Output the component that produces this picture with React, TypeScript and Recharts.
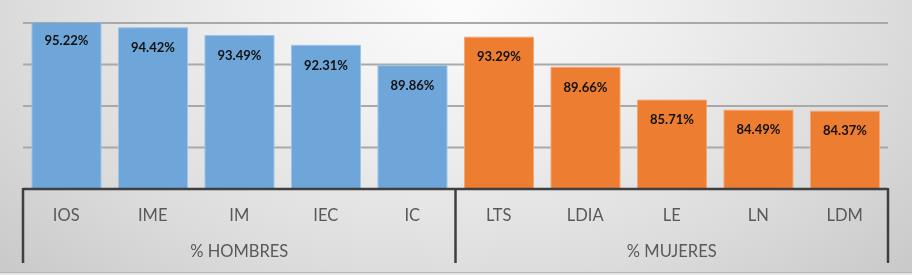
import React from 'react';
import { BarChart, Bar, XAxis, YAxis, CartesianGrid, Cell, LabelList } from 'recharts';

const categories = ['IOS', 'IME', 'IM', 'IEC', 'IC', 'LTS', 'LDIA', 'LE', 'LN', 'LDM'];
const values = [95.22, 94.42, 93.49, 92.31, 89.86, 93.29, 89.66, 85.71, 84.49, 84.37];
const groups = ['% HOMBRES', '% HOMBRES', '% HOMBRES', '% HOMBRES', '% HOMBRES', '% MUJERES', '% MUJERES', '% MUJERES', '% MUJERES', '% MUJERES'];
const groupColors: Record<string, string> = { '% HOMBRES': '#6fa6da', '% MUJERES': '#ed7d31' };
const groupStrokes: Record<string, string> = { '% HOMBRES': '#9cc3e8', '% MUJERES': '#f4a670' };
const yTicks = [75, 80, 85, 90, 95];

const data = categories.map((name, i) => ({ name, value: values[i], group: groups[i] }));

const W = 912;
const H = 275;
const M = { top: 23, right: 24, bottom: 0, left: 23 };
const BAND = (W - M.left - M.right) / categories.length;
const FONT = 'Lato, "Open Sans", sans-serif';
const FRAME = '#3f3f3f';

function CategoryTick(props: any) {
  const { x, y, payload, index } = props;
  const i = typeof index === 'number' ? index : payload.index;
  const g = groups[i];
  const isFirst = i === 0 || groups[i - 1] !== g;
  const isLast = i === categories.length - 1;
  let groupLabel = null;
  if (isFirst) {
    let last = i;
    while (last + 1 < groups.length && groups[last + 1] === g) last++;
    const cx = x + ((i + last) / 2 - i) * BAND;
    groupLabel = (
      <text x={cx} y={y + 68} textAnchor="middle" fill="#595959" fontSize={16.5} fontFamily={FONT}>
        {g}
      </text>
    );
  }
  return (
    <g>
      <text x={x} y={y + 32} textAnchor="middle" fill="#595959" fontSize={16.5} fontFamily={FONT}>
        {payload.value}
      </text>
      {groupLabel}
      {isFirst && (
        <line x1={x - BAND / 2} x2={x - BAND / 2} y1={y - 1} y2={y + 74} stroke={FRAME} strokeWidth={2.5} />
      )}
      {isLast && (
        <line x1={x + BAND / 2} x2={x + BAND / 2} y1={y - 1} y2={y + 74} stroke={FRAME} strokeWidth={2.5} />
      )}
    </g>
  );
}

export default function App() {
  return (
    <div
      style={{
        position: 'fixed',
        left: 0,
        top: 0,
        width: W,
        height: H,
        background: 'radial-gradient(620px 400px at 50% 0%, #fcfcfc 0%, #eeeeee 35%, #dcdcdc 70%, #c9c9c9 100%)',
      }}
    >
      <div style={{ position: 'absolute', left: 0, top: 272, width: W, height: 1, background: '#b8b8b8' }} />
      <div style={{ position: 'absolute', left: 0, top: 273, width: W, height: 2, background: '#e6e6e6' }} />
      <div style={{ position: 'absolute', left: 0, top: 0 }}>
        <BarChart width={W} height={H} data={data} margin={M} barCategoryGap="10.4%">
          <CartesianGrid vertical={false} stroke="#a9a9a9" strokeWidth={2} />
          <YAxis hide domain={[75, 95]} ticks={yTicks} allowDataOverflow type="number" />
          <XAxis
            dataKey="name"
            height={86}
            interval={0}
            tickLine={false}
            tickSize={0}
            tickMargin={0}
            axisLine={{ stroke: FRAME, strokeWidth: 2.5 }}
            tick={(p: any) => <CategoryTick {...p} />}
          />
          <Bar dataKey="value" isAnimationActive={false} strokeWidth={1}>
            {data.map((d, i) => (
              <Cell key={i} fill={groupColors[d.group]} stroke={groupStrokes[d.group]} />
            ))}
            <LabelList
              dataKey="value"
              position="insideTop"
              offset={15}
              formatter={(v: any) => `${Number(v).toFixed(2)}%`}
              fill="#111"
              fontSize={13}
              fontWeight="bold"
              fontFamily={FONT}
            />
          </Bar>
        </BarChart>
      </div>
    </div>
  );
}
